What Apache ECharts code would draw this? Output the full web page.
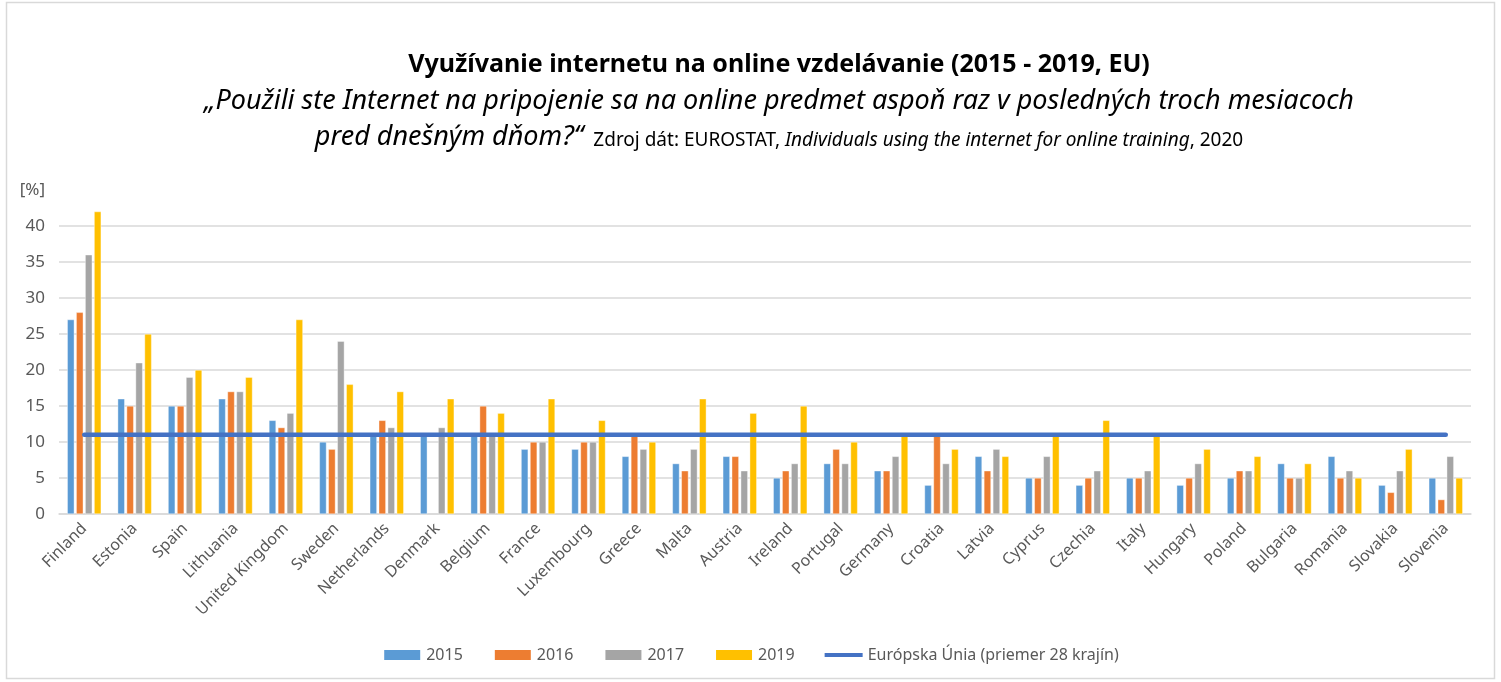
<!DOCTYPE html>
<html>
<head>
<meta charset="utf-8">
<script src="https://cdn.jsdelivr.net/npm/echarts@6/dist/echarts.min.js"></script>
<style>
  html, body { margin: 0; padding: 0; background: #fff; }
  #chart { width: 1501px; height: 682px; }
</style>
</head>
<body>
<div id="chart"></div>
<script>
// data
const countries = ["Finland", "Estonia", "Spain", "Lithuania", "United Kingdom", "Sweden", "Netherlands",
  "Denmark", "Belgium", "France", "Luxembourg", "Greece", "Malta", "Austria", "Ireland", "Portugal",
  "Germany", "Croatia", "Latvia", "Cyprus", "Czechia", "Italy", "Hungary", "Poland", "Bulgaria",
  "Romania", "Slovakia", "Slovenia"];
const y2015 = [27, 16, 15, 16, 13, 10, 11, 11, 11, 9, 9, 8, 7, 8, 5, 7, 6, 4, 8, 5, 4, 5, 4, 5, 7, 8, 4, 5];
const y2016 = [28, 15, 15, 17, 12, 9, 13, null, 15, 10, 10, 11, 6, 8, 6, 9, 6, 11, 6, 5, 5, 5, 5, 6, 5, 5, 3, 2];
const y2017 = [36, 21, 19, 17, 14, 24, 12, 12, 11, 10, 10, 9, 9, 6, 7, 7, 8, 7, 9, 8, 6, 6, 7, 6, 5, 6, 6, 8];
const y2019 = [42, 25, 20, 19, 27, 18, 17, 16, 14, 16, 13, 10, 16, 14, 15, 10, 11, 9, 8, 11, 13, 11, 9, 8, 7, 5, 9, 5];
const euAvg = [11, 11, 11, 11, 11, 11, 11, 11, 11, 11, 11, 11, 11, 11, 11, 11, 11, 11, 11, 11, 11, 11, 11, 11, 11, 11, 11, 11];
const yTicks = { min: 0, max: 45, step: 5 };

const font = "'Noto Sans', sans-serif";
const txt = "#595959";
const titleX = 774;

const chart = echarts.init(document.getElementById("chart"));

const bar = (name, data, color) => ({
  name: name,
  type: "bar",
  data: data,
  barWidth: 7,
  barGap: "28%",
  itemStyle: { color: color, borderColor: "#fff", borderWidth: 0.4 }
});

chart.setOption({
  animation: false,
  textStyle: { fontFamily: font },
  title: [
    {
      text: "Využívanie internetu na online vzdelávanie (2015 - 2019, EU)",
      left: titleX, textAlign: "center", top: 47,
      textStyle: { fontFamily: font, fontWeight: "bold", fontSize: 25, color: "#000" }
    },
    {
      text: "„Použili ste Internet na pripojenie sa na online predmet aspoň raz v posledných troch mesiacoch",
      left: titleX, textAlign: "center", top: 83,
      textStyle: { fontFamily: font, fontStyle: "italic", fontWeight: "normal", fontSize: 27, color: "#000" }
    },
    {
      text: "{q|pred dnešným dňom?“}{s|  Zdroj dát: EUROSTAT, }{i|Individuals using the internet for online training}{s|, 2020}",
      left: titleX, textAlign: "center", top: 119,
      textStyle: {
        fontFamily: font,
        fontWeight: "normal",
        rich: {
          q: { fontFamily: font, fontStyle: "italic", fontWeight: "normal", fontSize: 27, color: "#000" },
          s: { fontFamily: font, fontWeight: "normal", fontSize: 19, color: "#000", padding: [6, 0, 0, 0] },
          i: { fontFamily: font, fontStyle: "italic", fontWeight: "normal", fontSize: 19, color: "#000", padding: [6, 0, 0, 0] }
        }
      }
    }
  ],
  graphic: [{
    type: "rect",
    shape: { x: 6.5, y: 2.5, width: 1488, height: 676 },
    style: { fill: "none", stroke: "#d9d9d9", lineWidth: 1.5 },
    silent: true
  }],
  legend: {
    bottom: 14,
    left: "center",
    itemWidth: 38,
    itemHeight: 12,
    itemGap: 30,
    textStyle: { fontFamily: font, fontSize: 16, color: txt },
    data: [
      { name: "2015", icon: "rect" },
      { name: "2016", icon: "rect" },
      { name: "2017", icon: "rect" },
      { name: "2019", icon: "rect" },
      { name: "Európska Únia (priemer 28 krajín)", icon: "path://M0,0 L40,0 L40,4 L0,4 Z" }
    ]
  },
  grid: { left: 59, right: 30, top: 190, bottom: 168, containLabel: false },
  xAxis: {
    type: "category",
    data: countries,
    axisTick: { show: false },
    axisLine: { lineStyle: { color: "#d9d9d9", width: 1.5 } },
    axisLabel: { rotate: 45, interval: 0, fontFamily: font, fontSize: 16, color: txt, margin: 12 }
  },
  yAxis: {
    type: "value",
    min: yTicks.min,
    max: yTicks.max,
    interval: yTicks.step,
    axisLine: { show: false },
    axisTick: { show: false },
    axisLabel: {
      fontFamily: font, fontSize: 17, color: txt, margin: 14,
      formatter: v => (v === yTicks.max ? "[%]" : String(v))
    },
    splitLine: { showMaxLine: false, lineStyle: { color: "#d9d9d9", width: 1.5 } }
  },
  series: [
    bar("2015", y2015, "#5B9BD5"),
    bar("2016", y2016, "#ED7D31"),
    bar("2017", y2017, "#A5A5A5"),
    bar("2019", y2019, "#FFC000"),
    {
      name: "Európska Únia (priemer 28 krajín)",
      type: "line",
      data: euAvg,
      symbol: "none",
      z: 5,
      lineStyle: { color: "#4472C4", width: 4.5, cap: "round" },
      itemStyle: { color: "#4472C4" }
    }
  ]
});

window.onresize = function () {
  chart.resize();
};
</script>
</body>
</html>
